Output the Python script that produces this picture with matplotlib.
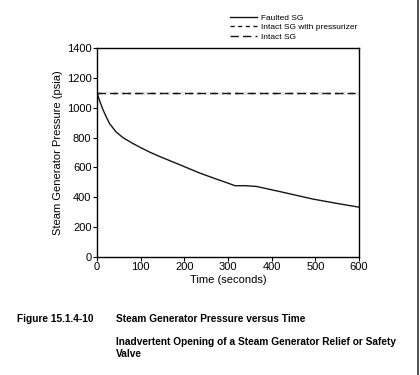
import numpy as np
import matplotlib.pyplot as plt
from matplotlib.lines import Line2D

plt.rcParams['font.family'] = ['Liberation Sans', 'DejaVu Sans']

# Faulted SG pressure
time_s = [0, 6, 14, 22, 29, 44, 60, 82, 100, 120, 144, 189, 235, 266, 300,
          316, 340, 365, 418, 495, 550, 600]
faulted_psia = [1100, 1045, 984, 933, 892, 836, 798, 760, 732, 703, 672,
                618, 562, 529, 494, 477, 477, 472, 438, 387, 358, 333]

# intact generators stay flat at the relief setpoint
intact_t = [0, 600]
intact_pzr_psia = [1100, 1100]
intact_psia = [1100, 1100]

fig = plt.figure(figsize=(4.2, 3.75), dpi=100)
ax = fig.add_axes([0.231, 0.315, 0.624, 0.557])

ax.plot(time_s, faulted_psia, color='#1a1020', lw=1.0, label='Faulted SG')
ax.plot(intact_t, intact_pzr_psia, color='#1a1020', lw=1.0,
        dashes=(3, 2.5), label='Intact SG with pressurizer')
ax.plot(intact_t, intact_psia, color='#1a1020', lw=1.0, gapcolor='white',
        dashes=(6, 3), label='Intact SG')

ax.set_xlim(0, 600)
ax.set_ylim(0, 1400)
ax.set_xticks(range(0, 601, 100))
ax.set_yticks(range(0, 1401, 200))
ax.tick_params(direction='out', length=3, width=0.8, labelsize=8, pad=1)
for s in ax.spines.values():
    s.set_linewidth(1.0)

ax.set_xlabel('Time (seconds)', fontsize=8, labelpad=2)
ax.set_ylabel('Steam Generator Pressure (psia)', fontsize=8, labelpad=3)

ax.legend(loc='lower left', bbox_to_anchor=(0.488, 1.01), frameon=False,
          fontsize=6, handlelength=3.3, handletextpad=0.4,
          labelspacing=0.2, borderaxespad=0.5, borderpad=0.1)

# caption
cap = dict(fontsize=7.3, weight='bold', va='center')
fig.text(17 / 420, 1 - 319 / 375, 'Figure 15.1.4-10', **cap)
fig.text(116 / 420, 1 - 319 / 375, 'Steam Generator Pressure versus Time',
         **cap)
fig.text(116 / 420, 1 - 342 / 375,
         'Inadvertent Opening of a Steam Generator Relief or Safety', **cap)
fig.text(116 / 420, 1 - 354 / 375, 'Valve', **cap)

# page edge line on the right
fig.add_artist(Line2D([418 / 420, 418 / 420], [0, 1], color='#333333',
                      lw=1.2, transform=fig.transFigure))

fig.savefig('out.png', dpi=100)
